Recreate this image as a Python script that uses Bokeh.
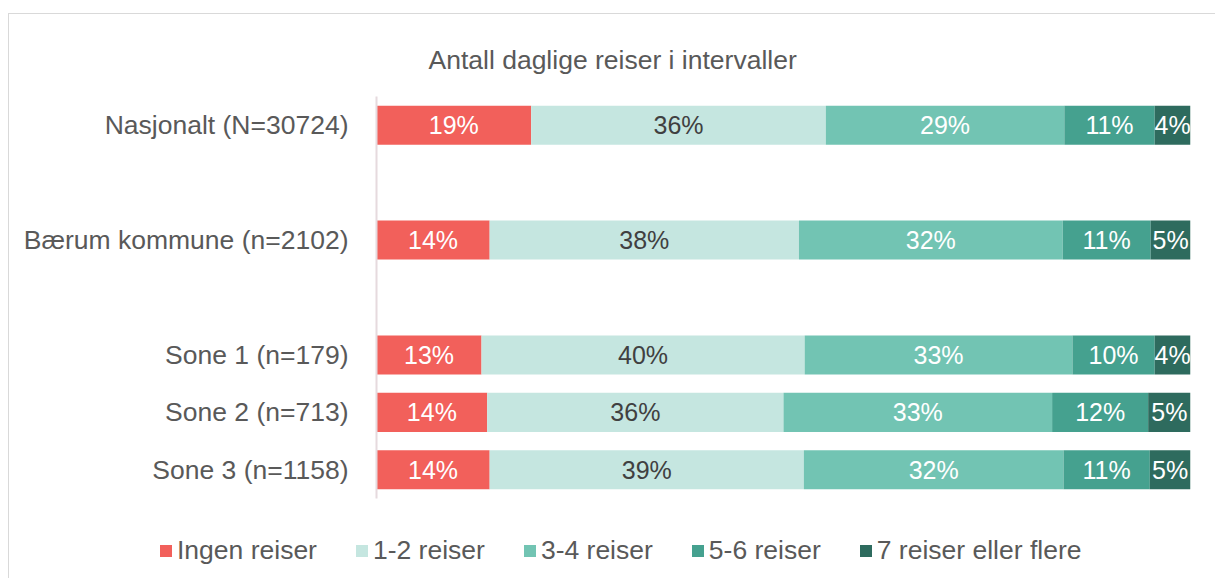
from bokeh.plotting import figure
from bokeh.layouts import column
from bokeh.models import Range1d, FixedTicker, Legend, LegendItem
from bokeh.core.properties import value
from bokeh.embed import file_html
from bokeh.resources import INLINE

# ---- data ----
categories = ["Nasjonalt (N=30724)", "Bærum kommune (n=2102)",
              "Sone 1 (n=179)", "Sone 2 (n=713)", "Sone 3 (n=1158)"]
series = ["Ingen reiser", "1-2 reiser", "3-4 reiser", "5-6 reiser", "7 reiser eller flere"]
ingen = [19.0, 13.9, 12.9, 13.6, 13.9]
reiser_1_2 = [36.2, 38.0, 39.7, 36.4, 38.6]
reiser_3_4 = [29.3, 32.4, 32.9, 33.0, 31.9]
reiser_5_6 = [11.1, 10.8, 10.1, 11.8, 10.6]
reiser_7 = [4.4, 4.9, 4.4, 5.2, 5.0]

# ---- layout / style ----
row_pos = [0, 2, 4, 5, 6]
colors = ["#F2605B", "#C5E6E0", "#72C4B3", "#45A18F", "#2E6B5E"]
label_colors = ["#FFFFFF", "#404040", "#FFFFFF", "#FFFFFF", "#FFFFFF"]
FONT = "Liberation Sans"
TXT = "#595959"

p = figure(width=1206, height=500, output_backend="svg", toolbar_location=None,
           x_range=Range1d(0, 100), y_range=Range1d(6.5, -0.5),
           min_border_left=367, min_border_right=25, min_border_top=82,
           min_border_bottom=16)
p.outline_line_color = None
p.xgrid.visible = False
p.ygrid.visible = False
p.xaxis.visible = False

p.title.text = "Antall daglige reiser i intervaller"
p.title.align = "left"
p.title.offset = 52
p.title.text_font = FONT
p.title.text_font_size = "26.5px"
p.title.text_font_style = "normal"
p.title.text_color = TXT
p.title.standoff = 44

ax = p.yaxis[0]
ax.ticker = FixedTicker(ticks=row_pos)
ax.major_label_overrides = {r: c for r, c in zip(row_pos, categories)}
ax.major_label_text_font = FONT
ax.major_label_text_font_size = "26.5px"
ax.major_label_text_color = TXT
ax.major_label_standoff = 22
ax.major_tick_line_color = None
ax.minor_tick_line_color = None
ax.axis_line_color = "#E6DADE"
ax.axis_line_width = 2

values = [ingen, reiser_1_2, reiser_3_4, reiser_5_6, reiser_7]
lefts, rights = [], []
left = [0.0] * len(categories)
for name, vals, col, lcol in zip(series, values, colors, label_colors):
    right = [l + v for l, v in zip(left, vals)]
    lefts.append(left)
    rights.append(right)
    p.hbar(y=row_pos, left=left, right=right, height=0.68,
           fill_color=col, line_color=None)
    mids = [(l + rr) / 2 for l, rr in zip(left, right)]
    p.text(x=mids, y=row_pos, text=[f"{round(v)}%" for v in vals],
           text_align="center", text_baseline="middle",
           text_font=value(FONT), text_font_size="25px", text_color=lcol)
    left = right

# ---- legend strip (separate figure so the legend is not clipped) ----
p2 = figure(width=1206, height=64, output_backend="svg", toolbar_location=None,
            x_range=Range1d(0, 100), y_range=Range1d(6.5, -0.5),
            min_border_left=0, min_border_right=0, min_border_top=0,
            min_border_bottom=0)
for plot in (p, p2):
    if "frame_align" in plot.properties():
        plot.frame_align = False
p2.outline_line_color = None
p2.axis.visible = False
p2.grid.visible = False
items = []
for name, col, l, r_ in zip(series, colors, lefts, rights):
    r = p2.hbar(y=row_pos, left=l, right=r_, height=0.68, fill_color=col,
                line_color=None, visible=False)
    items.append(LegendItem(label=name, renderers=[r]))
legend = Legend(items=items, orientation="horizontal", location=(149, 12),
                glyph_width=15, glyph_height=15, label_standoff=4, spacing=37,
                padding=0, margin=0, border_line_color=None,
                background_fill_alpha=0,
                label_text_font=FONT, label_text_font_size="26.5px",
                label_text_color=TXT)
p2.add_layout(legend, "center")

layout = column(p, p2, spacing=0)
layout.styles = {"border-top": "1px solid #D9D9D9", "border-left": "1px solid #D9D9D9",
                 "margin-top": "13px", "margin-left": "8px"}

open("out.html", "w").write(file_html(layout, INLINE))
